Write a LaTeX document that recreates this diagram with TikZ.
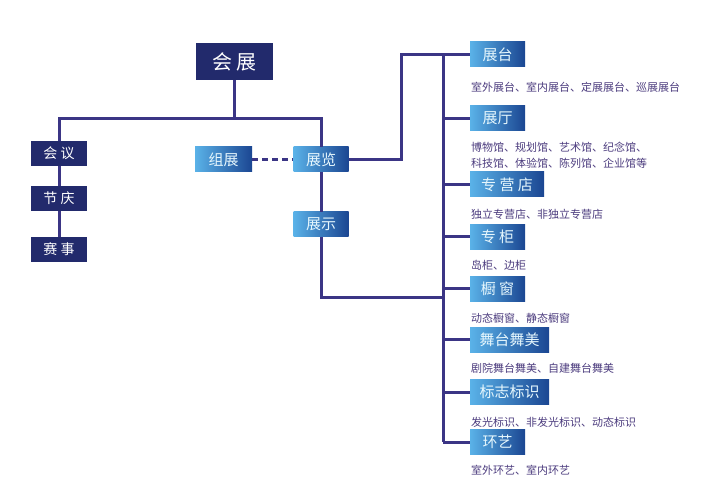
\documentclass[tikz,border=0pt]{standalone}
\usepackage{fontspec}
\usepackage{tikz}
\usepackage{xcolor}
\usetikzlibrary{positioning}
\newfontfamily\cjk{Noto Sans CJK SC}
\definecolor{xianse}{HTML}{3B3585}
\definecolor{shense}{HTML}{222A6C}
\definecolor{qianlan}{HTML}{5AB2E8}
\definecolor{shenlan}{HTML}{1B4692}
\definecolor{ziwen}{HTML}{4C3C7E}
\tikzset{
  lianxian/.style={xianse,line width=3pt},
  dabox/.style={fill=shense,text=white,minimum height=25pt,inner sep=0pt,font=\cjk\fontsize{14}{14}\selectfont},
  lanbox/.style={left color=qianlan,right color=shenlan,text=white!90!cyan,minimum height=25pt,inner sep=0pt,font=\cjk\fontsize{15}{15}\selectfont},
  shuoming/.style={anchor=west,text=ziwen,inner sep=0pt,align=left,font=\cjk\fontsize{11}{16}\selectfont}
}
\begin{document}
\begin{tikzpicture}[x=1pt,y=-1pt]
\useasboundingbox (0,0) rectangle (721,484);
% top and left column
\node[dabox,minimum width=77pt,minimum height=37pt,font=\cjk\fontsize{20}{20}\selectfont] (huizhan) at (234.5,61.5) {会 展};
\node[dabox,minimum width=56pt] (huiyi) at (59,153.5) {会 议};
\node[dabox,minimum width=56pt] (jieqing) at (59,198.5) {节 庆};
\node[dabox,minimum width=56pt] (saishi) at (59,249.5) {赛 事};
% middle column
\node[lanbox,minimum width=57pt] (zuzhan) at (223.5,159.5) {组展};
\node[lanbox,minimum width=55pt] (zhanlan) at (321,159.5) {展览};
\node[lanbox,minimum width=55pt] (zhanshi) at (321,224.5) {展示};
% right column
\node[lanbox,minimum width=55pt] (zhantai) at (497.5,54.5) {展台};
\node[shuoming] (sm1) at (471,87) {室外展台、室内展台、定展展台、巡展展台};
\node[lanbox,minimum width=55pt] (zhanting) at (497.5,118.5) {展厅};
\node[shuoming] (sm2) at (471,155) {博物馆、规划馆、艺术馆、纪念馆、\\科技馆、体验馆、陈列馆、企业馆等};
\node[lanbox,minimum width=74pt] (zhuanying) at (507,184.5) {专 营 店};
\node[shuoming] (sm3) at (471,214) {独立专营店、非独立专营店};
\node[lanbox,minimum width=55pt] (zhuangui) at (497.5,237) {专 柜};
\node[shuoming] (sm4) at (471,265) {岛柜、边柜};
\node[lanbox,minimum width=55pt] (chuchuang) at (497.5,288.5) {橱 窗};
\node[shuoming] (sm5) at (471,318) {动态橱窗、静态橱窗};
\node[lanbox,minimum width=79pt] (wutai) at (509.5,339.5) {舞台舞美};
\node[shuoming] (sm6) at (471,368) {剧院舞台舞美、自建舞台舞美};
\node[lanbox,minimum width=79pt] (biaozhi) at (509.5,392) {标志标识};
\node[shuoming] (sm7) at (471,422) {发光标识、非发光标识、动态标识};
\node[lanbox,minimum width=55pt] (huanyi) at (497.5,442) {环艺};
\node[shuoming] (sm8) at (471,470) {室外环艺、室内环艺};
% connectors
\coordinate (fencha) at (234.5,119);
\coordinate (zhugan) at (443,0);
\draw[lianxian] (huizhan.south) -- (fencha);
\draw[lianxian] (huiyi.north) |- (fencha);
\draw[lianxian] (zhanlan.north) |- (fencha);
\draw[lianxian] (huiyi) -- (jieqing);
\draw[lianxian] (jieqing) -- (saishi);
\draw[lianxian] (zhanlan) -- (zhanshi);
\draw[lianxian] (zhanshi.south) |- (zhugan |- 0,297);
\draw[lianxian] (zhanlan.east) -- ++(53,0) |- (zhantai.west);
\draw[lianxian,dash pattern=on 6pt off 4pt] (zuzhan) -- (zhanlan);
\draw[lianxian] (zhugan |- zhantai) -- (zhugan |- huanyi);
\draw[lianxian] (zhugan |- zhanting) -- (zhanting.west);
\draw[lianxian] (zhugan |- zhuanying) -- (zhuanying.west);
\draw[lianxian] (zhugan |- zhuangui) -- (zhuangui.west);
\draw[lianxian] (zhugan |- chuchuang) -- (chuchuang.west);
\draw[lianxian] (zhugan |- wutai) -- (wutai.west);
\draw[lianxian] (zhugan |- biaozhi) -- (biaozhi.west);
\draw[lianxian] (zhugan |- huanyi) -- (huanyi.west);
\end{tikzpicture}
\end{document}
